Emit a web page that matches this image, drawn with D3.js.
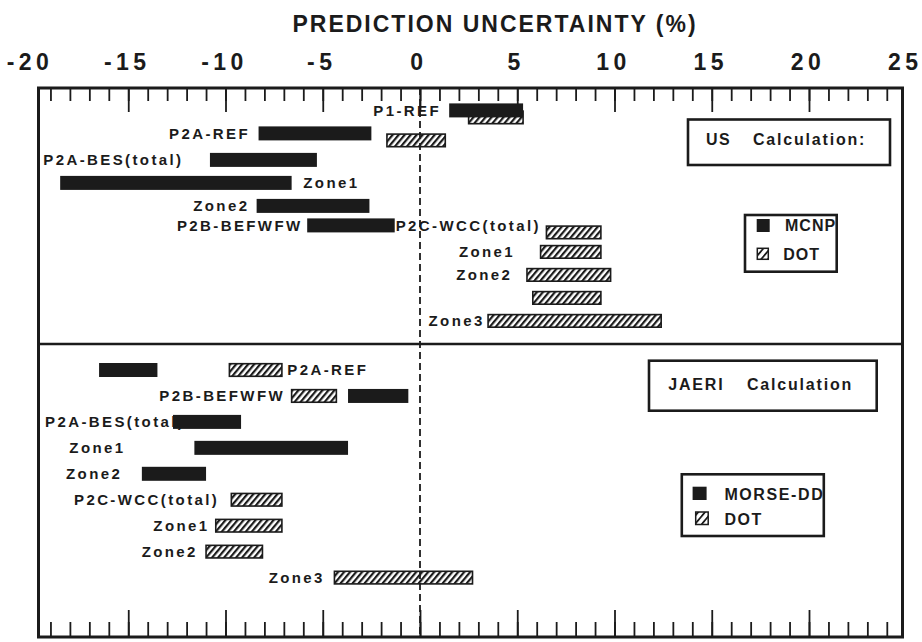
<!DOCTYPE html>
<html>
<head>
<meta charset="utf-8">
<script src="https://cdn.jsdelivr.net/npm/d3@7"></script>
<style>
  html, body { margin: 0; padding: 0; background: #fff; }
  svg text { font-family: "Liberation Sans", Arial, Helvetica, sans-serif; font-weight: bold; fill: #1b1b1b; }
</style>
</head>
<body>
<svg id="chart" width="922" height="642"></svg>
<script>
// ---------------- data ----------------
const chartTitle = "PREDICTION UNCERTAINTY (%)";
const axisTickLabels = [-20, -15, -10, -5, 0, 5, 10, 15, 20, 25];

// US calculation (upper panel): one entry per bar, uncertainty range in %
const usTitle   = ["US", "Calculation:"];
const usSeries  = ["MCNP", "DOT"];
const usRow     = [0, 0, 1, 1, 2, 3, 4, 5, 5, 6, 7, 8, 9];
const usCode    = ["MCNP", "DOT", "MCNP", "DOT", "MCNP", "MCNP", "MCNP", "MCNP", "DOT", "DOT", "DOT", "DOT", "DOT"];
const usLow     = [1.5, 2.5, -8.3, -1.7, -10.8, -18.5, -8.4, -5.8, 6.5, 6.2, 5.5, 5.8, 3.5];
const usHigh    = [5.3, 5.3, -2.5, 1.3, -5.3, -6.6, -2.6, -1.3, 9.3, 9.3, 9.8, 9.3, 12.4];
const usCases   = ["P1-REF", "P2A-REF", "P2A-BES(total)", "Zone1", "Zone2", "P2B-BEFWFW", "P2C-WCC(total)", "Zone1", "Zone2", "Zone3"];
const usCaseRow = [0, 1, 2, 3, 4, 5, 5, 6, 7, 9];

// JAERI calculation (lower panel)
const jaTitle   = ["JAERI", "Calculation"];
const jaSeries  = ["MORSE-DD", "DOT"];
const jaRow     = [0, 0, 1, 1, 2, 3, 4, 5, 6, 7, 8];
const jaCode    = ["MORSE-DD", "DOT", "DOT", "MORSE-DD", "MORSE-DD", "MORSE-DD", "MORSE-DD", "DOT", "DOT", "DOT", "DOT"];
const jaLow     = [-16.5, -9.8, -6.6, -3.7, -12.7, -11.6, -14.3, -9.7, -10.5, -11.0, -4.4];
const jaHigh    = [-13.5, -7.1, -4.3, -0.6, -9.2, -3.7, -11.0, -7.1, -7.1, -8.1, 2.7];
const jaCases   = ["P2A-REF", "P2B-BEFWFW", "P2A-BES(total)", "Zone1", "Zone2", "P2C-WCC(total)", "Zone1", "Zone2", "Zone3"];
const jaCaseRow = [0, 1, 2, 3, 4, 5, 6, 7, 8];

// ---------------- layout ----------------
const INK = "#1b1b1b";
const frame = { left: 38.5, right: 902.5, top: 88, mid: 344, bottom: 637 };

// where each case name starts, in % along the axis
const usCaseStart = [-2.4, -12.9, -19.37, -6.0, -11.66, -12.5, -1.25, 2.0, 1.86, 0.44];
const jaCaseStart = [-6.82, -13.4, -19.28, -18.03, -18.2, -17.79, -13.71, -14.31, -7.78];

const x = d3.scaleLinear().domain([-20, 25]).range([31, 906.25]);
const yUS = d3.scaleLinear().domain([0, 9]).range([113.9, 320.9]);
const yJA = d3.scaleLinear().domain([0, 8]).range([370, 577.6]);

const svg = d3.select("#chart");
const defs = svg.append("defs");

function hatch(id, gap, w) {
  defs.append("pattern")
    .attr("id", id)
    .attr("patternUnits", "userSpaceOnUse")
    .attr("width", gap).attr("height", gap)
    .attr("patternTransform", "rotate(40)")
    .append("rect")
    .attr("x", 0).attr("y", 0)
    .attr("width", w).attr("height", gap)
    .attr("fill", INK);
}
hatch("hatch", 4.6, 2.2);
hatch("hatchIcon", 5.2, 1.8);

// title
svg.append("text")
  .attr("x", 495).attr("y", 32)
  .attr("text-anchor", "middle")
  .style("font-size", "23px")
  .style("letter-spacing", "2px")
  .text(chartTitle);

// tick labels along the top
const labelAxis = svg.append("g")
  .attr("transform", `translate(0,70)`)
  .call(d3.axisTop(x).tickValues(axisTickLabels).tickSize(0).tickPadding(0).tickFormat(d => String(d)));
labelAxis.select(".domain").remove();
labelAxis.attr("font-family", null).attr("font-size", null);
labelAxis.selectAll("text")
  .attr("dx", -1.5)
  .style("font-size", "23px")
  .style("letter-spacing", "4.5px")
  .attr("fill", INK);

// tick rows on the top and bottom edges
const minorTicks = d3.range(-19, 25);
const majorTicks = minorTicks.filter(v => v % 5 === 0);

function tickRow(axisFn, yPos, values, len) {
  const g = svg.append("g")
    .attr("transform", `translate(0,${yPos})`)
    .call(axisFn(x).tickValues(values).tickSize(len).tickFormat(""));
  g.select(".domain").remove();
  g.selectAll("line").attr("stroke", INK).attr("stroke-width", 1.8);
}
tickRow(d3.axisBottom, frame.top, minorTicks, 13);
tickRow(d3.axisBottom, frame.top, majorTicks, 24);
tickRow(d3.axisTop, frame.bottom, minorTicks, 15);
tickRow(d3.axisTop, frame.bottom, majorTicks, 27);

// zero reference line
svg.append("line")
  .attr("x1", x(0)).attr("x2", x(0))
  .attr("y1", frame.top).attr("y2", frame.bottom)
  .attr("stroke", INK).attr("stroke-width", 1.8)
  .attr("stroke-dasharray", "7,4");

// one panel: case names, then bars over them
function panel(y, rows, codes, lows, highs, solidName, pairShift, cases, caseRows, caseStart) {
  const bars = rows.map((r, i) => ({ row: r, code: codes[i], lo: lows[i], hi: highs[i] }));
  const paired = new Set(rows.filter(r => new Set(bars.filter(b => b.row === r).map(b => b.code)).size > 1));
  const centre = b => y(b.row) + (paired.has(b.row) ? (b.code === solidName ? -pairShift : pairShift) : 0);

  svg.append("g").selectAll("text")
    .data(cases.map((c, i) => ({ name: c, row: caseRows[i], at: caseStart[i] })))
    .join("text")
    .attr("x", d => x(d.at))
    .attr("y", d => y(d.row) - (paired.has(d.row) ? pairShift : 0) + 5.4)
    .style("font-size", "15px")
    .style("letter-spacing", "2.4px")
    .text(d => d.name);

  const g = svg.append("g");
  // hatched (DOT) bars first, solid bars on top
  g.selectAll("rect.dot")
    .data(bars.filter(b => b.code !== solidName))
    .join("rect")
    .attr("class", "dot")
    .attr("x", b => x(b.lo)).attr("width", b => x(b.hi) - x(b.lo))
    .attr("y", b => centre(b) - 6.3).attr("height", 12.6)
    .attr("fill", "url(#hatch)")
    .attr("stroke", INK).attr("stroke-width", 1.6);
  g.selectAll("rect.solid")
    .data(bars.filter(b => b.code === solidName))
    .join("rect")
    .attr("class", "solid")
    .attr("x", b => x(b.lo)).attr("width", b => x(b.hi) - x(b.lo))
    .attr("y", b => centre(b) - 7).attr("height", 14)
    .attr("fill", INK);
}

panel(yUS, usRow, usCode, usLow, usHigh, usSeries[0], 3.5, usCases, usCaseRow, usCaseStart);
panel(yJA, jaRow, jaCode, jaLow, jaHigh, jaSeries[0], 0, jaCases, jaCaseRow, jaCaseStart);

// panel titles and legends
function box(x0, y0, w, h) {
  svg.append("rect").attr("x", x0).attr("y", y0).attr("width", w).attr("height", h)
    .attr("fill", "#fff").attr("stroke", INK).attr("stroke-width", 2.6);
}
function boxText(txt, x0, base, size, spacing) {
  svg.append("text").attr("x", x0).attr("y", base)
    .style("font-size", size + "px").style("letter-spacing", spacing + "px").text(txt);
}

box(688, 119.5, 202, 45.5);
boxText(usTitle[0], 706, 145, 16, 1.5);
boxText(usTitle[1], 753, 145, 16, 1.8);

box(745, 215, 91.7, 56.7);
svg.append("rect").attr("x", 756.7).attr("y", 219).attr("width", 13).attr("height", 13).attr("fill", INK);
boxText(usSeries[0], 785, 230.8, 16, 1);
svg.append("rect").attr("x", 757.3).attr("y", 248.3).attr("width", 11).attr("height", 11)
  .attr("fill", "url(#hatchIcon)").attr("stroke", INK).attr("stroke-width", 1.5);
boxText(usSeries[1], 783.3, 259.8, 16, 1);

box(649, 360.7, 227.7, 50);
boxText(jaTitle[0], 668.3, 390, 16, 1.8);
boxText(jaTitle[1], 747, 390, 16, 1.8);

box(681.8, 474.3, 142, 61.7);
svg.append("rect").attr("x", 692.6).attr("y", 486.7).attr("width", 14).attr("height", 13.3).attr("fill", INK);
boxText(jaSeries[0], 724.4, 499.8, 16, 1.6);
svg.append("rect").attr("x", 695.7).attr("y", 512).attr("width", 12.5).attr("height", 12.5)
  .attr("fill", "url(#hatchIcon)").attr("stroke", INK).attr("stroke-width", 1.5);
boxText(jaSeries[1], 724.4, 525, 16, 1.6);

// outer frame and the divider between the two panels
svg.append("rect")
  .attr("x", frame.left).attr("y", frame.top)
  .attr("width", frame.right - frame.left).attr("height", frame.bottom - frame.top)
  .attr("fill", "none").attr("stroke", INK).attr("stroke-width", 3);
svg.append("line")
  .attr("x1", frame.left).attr("x2", frame.right)
  .attr("y1", frame.mid).attr("y2", frame.mid)
  .attr("stroke", INK).attr("stroke-width", 2.6);
</script>
</body>
</html>
